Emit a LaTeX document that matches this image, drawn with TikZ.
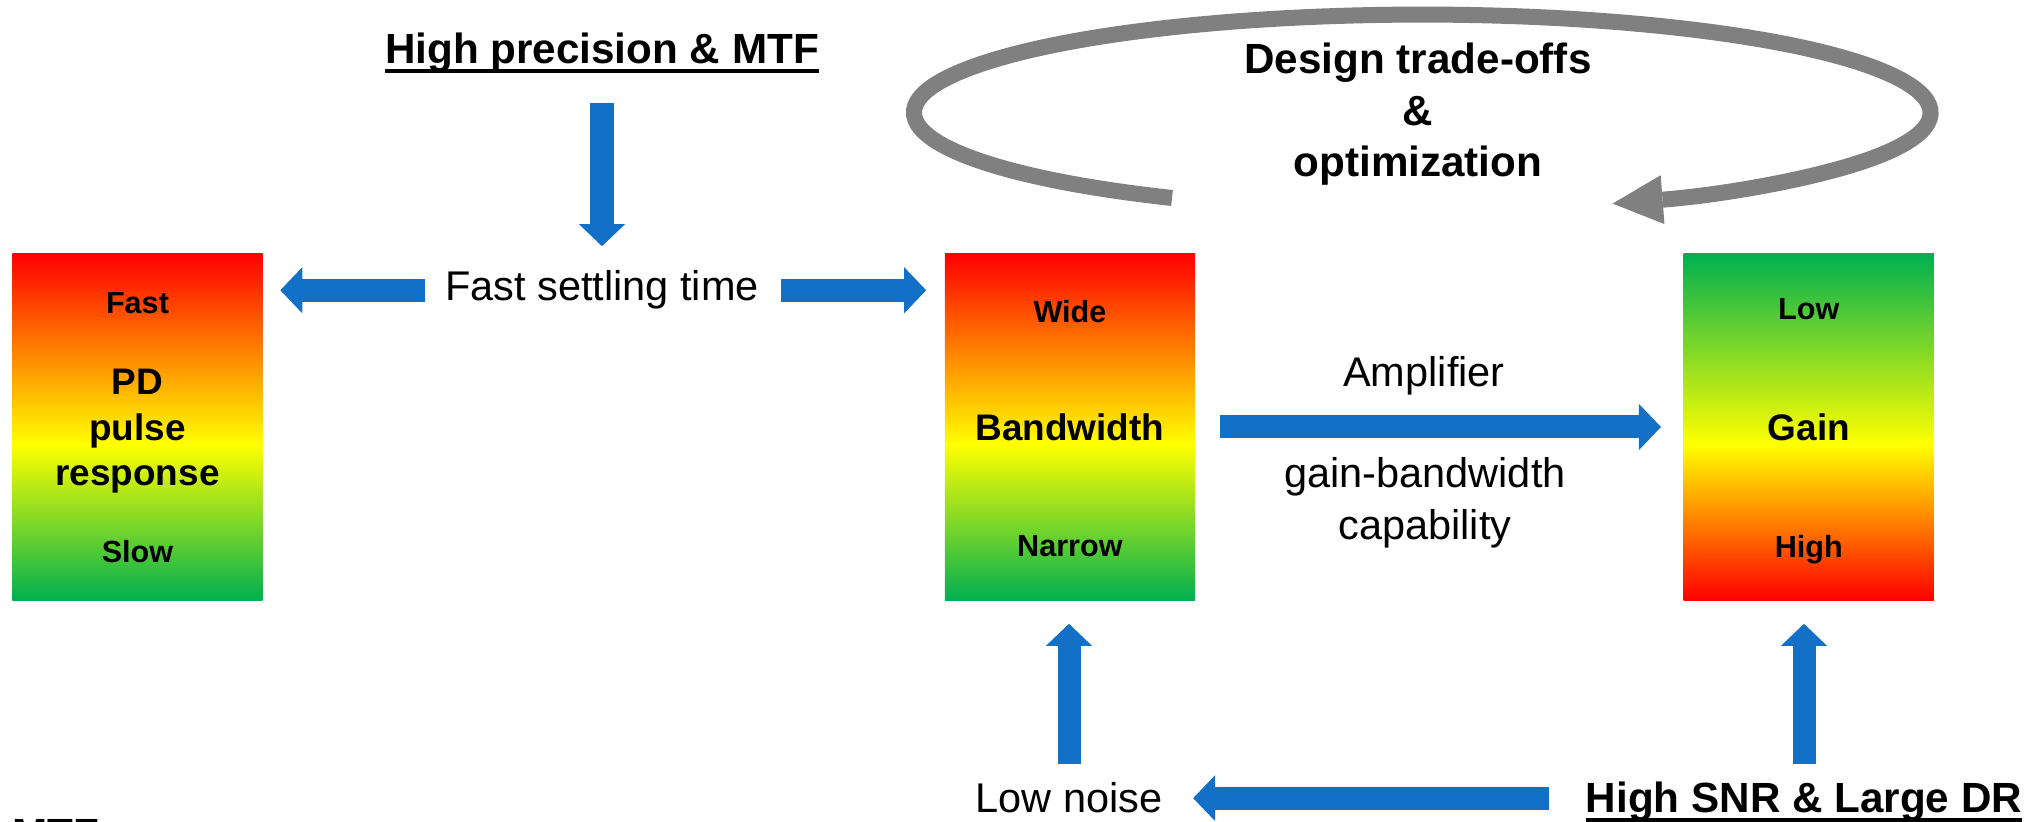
\documentclass[tikz,border=0pt]{standalone}
\usepackage{fontspec}
\setmainfont{Liberation Sans}
\usetikzlibrary{arrows.meta, positioning}
\definecolor{ArrowBlue}{HTML}{1270C6}
\definecolor{LoopGrey}{HTML}{808080}
\definecolor{HotRed}{HTML}{FF0000}
\definecolor{MidYellow}{HTML}{FFFF00}
\definecolor{CoolGreen}{HTML}{00B050}
\pgfdeclareverticalshading{redtogreen}{100bp}{color(0bp)=(CoolGreen); color(25bp)=(CoolGreen); color(47.5bp)=(MidYellow); color(75bp)=(HotRed); color(100bp)=(HotRed)}
\pgfdeclareverticalshading{greentored}{100bp}{color(0bp)=(HotRed); color(25bp)=(HotRed); color(47.5bp)=(MidYellow); color(75bp)=(CoolGreen); color(100bp)=(CoolGreen)}
\newcommand{\ulhead}[1]{\sbox0{#1}\rlap{\rule[-0.09cm]{\wd0}{0.04cm}}\usebox0}

\begin{document}
\begin{tikzpicture}[
    x=0.01cm, y=0.01cm,
    scalebox/.style={
        rectangle, shade, minimum width=2.5cm, minimum height=3.46cm, inner sep=0pt
    },
    boxtitle/.style={
        inner sep=0pt, align=center, font=\fontsize{10.5}{12.9}\selectfont\bfseries
    },
    boxtag/.style={
        inner sep=0pt, font=\fontsize{8.7}{10}\selectfont\bfseries
    },
    heading/.style={
        inner sep=0pt, align=center, font=\fontsize{12}{14.65}\selectfont\bfseries
    },
    note/.style={
        inner sep=0pt, align=center, font=\fontsize{11.8}{14.8}\selectfont
    },
    blockarrow/.style={
        -{Triangle[width=0.46cm, length=0.22cm, line width=0pt]}, line width=0.23cm, color=ArrowBlue
    },
    looparrow/.style={
        -{Triangle[width=0.49cm, length=0.5cm, line width=0pt]}, line width=0.16cm, color=LoopGrey
    }
]
    \useasboundingbox (0,0) rectangle (2041,822);
    \clip (0,0) rectangle (2041,822);

    % Scale boxes
    \node[scalebox, shading=redtogreen] (pdbox) at (137.5,395) {};
    \node[scalebox, shading=redtogreen, right=6.805cm of pdbox] (bwbox) {};
    \node[scalebox, shading=greentored, right=4.87cm of bwbox] (gainbox) {};

    \node[boxtag, below=0.39cm of pdbox.north] (fast) {Fast};
    \node[boxtitle] (pd) at ([yshift=-0.045cm]pdbox.center) {PD\\pulse\\response};
    \node[boxtag, above=0.37cm of pdbox.south] (slow) {Slow};

    \node[boxtag, below=0.46cm of bwbox.north] (wide) {Wide};
    \node[boxtitle] (bw) at (bwbox.center) {Bandwidth};
    \node[boxtag, above=0.43cm of bwbox.south] (narrow) {Narrow};

    \node[boxtag, below=0.45cm of gainbox.north] (low) {Low};
    \node[boxtitle] (gain) at (gainbox.center) {Gain};
    \node[boxtag, above=0.36cm of gainbox.south] (high) {High};

    % Texts
    \node[heading, anchor=base] (prec) at (602,758) {\ulhead{High precision \& MTF}};
    \node[note, anchor=base] (settle) at (602,521) {Fast settling time};
    \node[note, anchor=base] (amp) at (1424,435) {Amplifier};
    \node[note, anchor=base] (gbw) at (1425,282) {gain-bandwidth\\capability};
    \node[note, anchor=base] (lownoise) at (1069,9) {Low noise};
    \node[heading, anchor=base] (snr) at (1804,9) {\ulhead{High SNR \& Large DR}};
    \node[heading, anchor=base west] (mtf) at (12,-27) {MTF};
    \node[heading, anchor=base] (tradeoff) at (1418,645) {Design trade-offs\\\&\\optimization};

    % Links
    \draw[blockarrow, shorten <=0.29cm, shorten >=0.24cm] (prec) -- (settle);
    \draw[blockarrow, shorten <=0.19cm, shorten >=0.17cm] (settle.west) -- (settle.west -| pdbox.east);
    \draw[blockarrow, shorten <=0.21cm, shorten >=0.18cm] (settle.east) -- (settle.east -| bwbox.west);
    \draw[blockarrow, shorten <=0.24cm, shorten >=0.22cm] (bwbox) -- (gainbox);
    \draw[blockarrow, shorten <=0.18cm, shorten >=0.23cm] (lownoise.north) -- (lownoise.north |- bwbox.south);
    \draw[blockarrow, shorten <=0.18cm, shorten >=0.23cm] (snr.north) -- (snr.north |- gainbox.south);
    \draw[blockarrow, shorten <=0.36cm, shorten >=0.30cm] (lownoise.east -| snr.west) -- (lownoise.east);

    % Trade-off loop
    \coordinate (loopstart) at (1172,624);
    \draw[looparrow] (loopstart) arc[start angle=240.5, end angle=-68, x radius=5.08cm, y radius=0.98cm];

\end{tikzpicture}
\end{document}
